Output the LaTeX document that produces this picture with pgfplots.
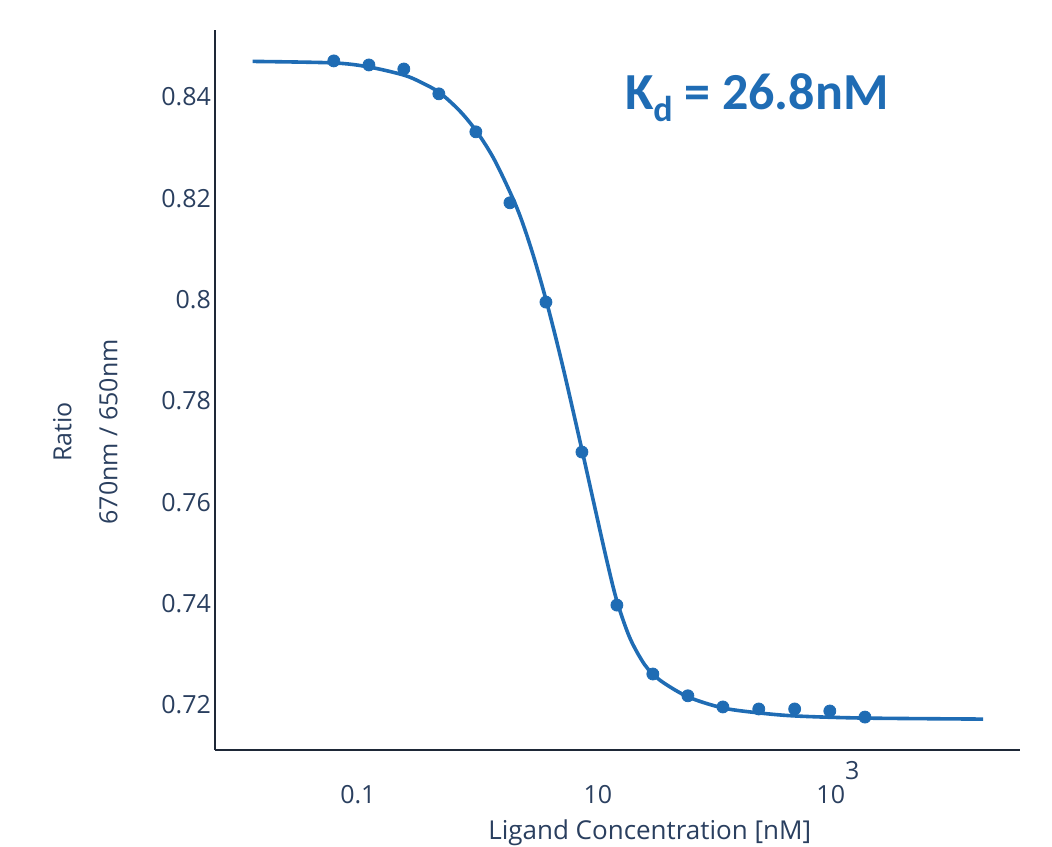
\documentclass[border=0pt]{standalone}
\usepackage{pgfplots}
\pgfplotsset{compat=1.18}
\usepackage{fontspec}
\setmainfont{Open Sans}
\newfontfamily\kdfont{Carlito}
\definecolor{fitblue}{RGB}{31,108,180}
\definecolor{axfont}{RGB}{42,63,95}
\definecolor{axline}{RGB}{30,40,55}

% measured points
\pgfplotstableread{
x      y
0.063  0.8471
0.1236 0.8463
0.2415 0.8455
0.473  0.8406
0.962  0.8331
1.85   0.8191
3.69   0.7995
7.36   0.7699
14.4   0.7397
28.7   0.7261
56.2   0.7218
110    0.7196
219    0.7192
436    0.7192
856    0.7188
1679   0.7176
}\pts

% fitted curve
\pgfplotstableread{
x       y
0.0133  0.8470
0.0631  0.8467
0.1236  0.8459
0.2415  0.8443
0.341   0.8428
0.482   0.8408
0.708   0.8372
0.981   0.8331
1.386   0.8274
2.113   0.8181
2.818   0.8096
3.758   0.7993
5.11    0.7867
7.50    0.7695
9.44    0.7589
11.89   0.7484
14.4    0.7405
18.48   0.7332
24.6    0.7279
32.8    0.7249
56.2    0.7216
110     0.7194
224     0.7184
457     0.7178
1679    0.7174
16200   0.7172
}\fit

\begin{document}
\begin{tikzpicture}
\path[use as bounding box] (0pt,0pt) rectangle (526pt,423pt);
\begin{axis}[
  at={(107.5pt,48pt)}, anchor=south west,
  scale only axis,
  width=402.5pt, height=360pt,
  xmode=log,
  xmin=0.00645, xmax=32900,
  ymin=0.7111, ymax=0.8532,
  axis x line*=bottom, axis y line*=left,
  axis line style={axline, line width=1.2pt, -},
  major tick length=0pt,
  xtick={0.1,10,1000},
  xticklabels={0.1,10,10\raisebox{12pt}[0pt][0pt]{3}},
  ytick={0.72,0.74,0.76,0.78,0.8,0.82,0.84},
  yticklabels={0.72,0.74,0.76,0.78,0.8,0.82,0.84},
  tick label style={font=\fontsize{12.5}{14}\selectfont, text=axfont},
  xticklabel style={yshift=-14pt},
  yticklabel style={xshift=1.5pt},
  xlabel={Ligand Concentration [nM]},
  ylabel={Ratio\\670nm / 650nm},
  xlabel style={font=\fontsize{13}{15}\selectfont, text=axfont, at={(axis description cs:0.540,-0.115)}, anchor=center},
  ylabel style={font=\fontsize{12.5}{23}\selectfont, text=axfont, at={(axis description cs:-0.161,0.442)}, anchor=center, align=center},
  clip=false,
]
\addplot[fitblue, line width=1.8pt, smooth, no marks] table[x=x,y=y] {\fit};
\addplot[only marks, mark=*, mark size=3pt, fitblue, mark options={draw=fitblue, fill=fitblue}] table[x=x,y=y] {\pts};
\node[anchor=base, text=fitblue, font=\kdfont\bfseries\fontsize{26}{30}\selectfont] at (axis description cs:0.673,0.889) {K\raisebox{-6pt}{\fontsize{18}{20}\selectfont d} = 26.8nM};
\end{axis}
\end{tikzpicture}
\end{document}
